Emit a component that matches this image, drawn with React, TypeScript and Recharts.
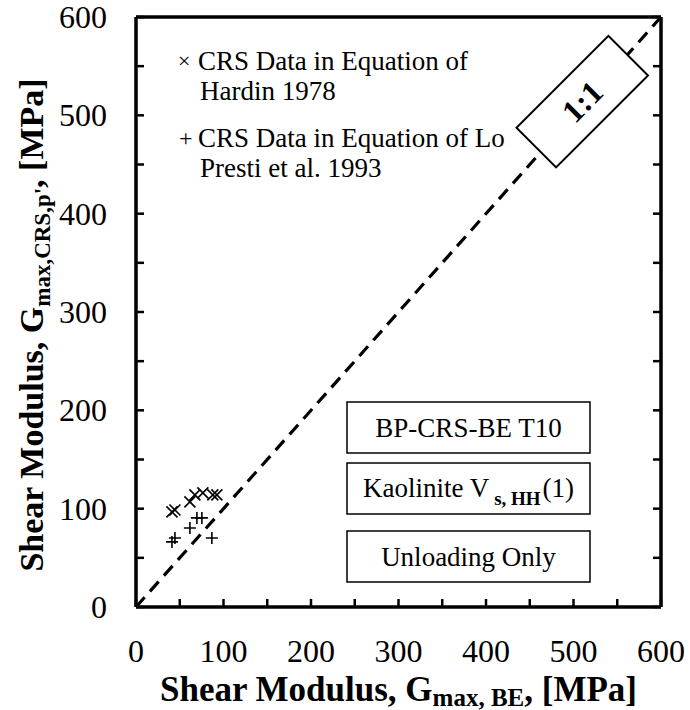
import React from "react";
import { ComposedChart, Scatter, XAxis, YAxis, ReferenceLine, ReferenceDot } from "recharts";

// axis ticks (labels only on the hundreds)
const xTicks = [0, 50, 100, 150, 200, 250, 300, 350, 400, 450, 500, 550, 600];
const yTicks = [0, 50, 100, 150, 200, 250, 300, 350, 400, 450, 500, 550, 600];

// CRS data in equation of Hardin 1978
const hardinX = [41.1, 44.5, 61.6, 67.3, 76.4, 87.8, 92.4];
const hardinY = [96.7, 98.7, 106.9, 114, 116, 114, 114];

// CRS data in equation of Lo Presti et al. 1993
const loPrestiX = [41.1, 44.5, 61.6, 69.6, 75.3, 86.7];
const loPrestiY = [66.2, 70.2, 80.4, 90.6, 90.6, 70.2];

// 1:1 reference line and its tag position
const unityLine = [0, 600];
const unityTag = { x: 510, y: 514, text: "1:1" };

const hardin = hardinX.map((x, i) => ({ x, y: hardinY[i] }));
const loPresti = loPrestiX.map((x, i) => ({ x, y: loPrestiY[i] }));

const SERIF = "Liberation Serif";
const serif = { fontFamily: SERIF };
const fmt = (v: number) => (v % 100 === 0 ? String(v) : "");

const Cross = ({ cx, cy }: any) => (
  <path
    d={`M${cx - 5.5},${cy - 5.5}L${cx + 5.5},${cy + 5.5}M${cx - 5.5},${cy + 5.5}L${cx + 5.5},${cy - 5.5}`}
    stroke="#000"
    strokeWidth={1.6}
    fill="none"
  />
);

const Plus = ({ cx, cy }: any) => (
  <path
    d={`M${cx - 6},${cy}L${cx + 6},${cy}M${cx},${cy - 6}L${cx},${cy + 6}`}
    stroke="#000"
    strokeWidth={1.6}
    fill="none"
  />
);

const UnityTag = ({ cx, cy }: any) => (
  <g transform={`translate(${cx},${cy}) rotate(-45)`}>
    <rect x={-65} y={-28} width={130} height={56} fill="#fff" stroke="#000" strokeWidth={2} />
    <text x={0} y={11} textAnchor="middle" style={serif} fontWeight="bold" fontSize={32} fill="#000">
      {unityTag.text}
    </text>
  </g>
);

const XTick = ({ x, y, payload }: any) => (
  <text x={x} y={y} dy={17} textAnchor="middle" style={serif} fontSize={32} fill="#000">
    {fmt(payload.value)}
  </text>
);

const YTick = ({ x, y, payload }: any) => (
  <text x={x} y={y} dy={11} textAnchor="end" style={serif} fontSize={32} fill="#000">
    {fmt(payload.value)}
  </text>
);

const XTitle = (props: any) => {
  const vb = props.viewBox || {};
  const cx = vb.x + vb.width / 2;
  return (
    <text x={cx} y={701} textAnchor="middle" style={serif} fontWeight="bold" fontSize={35} fill="#000">
      Shear Modulus, G
      <tspan fontSize={25} dy={5}>max, BE</tspan>
      <tspan dy={-5}>, [MPa]</tspan>
    </text>
  );
};

const YTitle = (props: any) => {
  const vb = props.viewBox || {};
  const cy = vb.y + vb.height / 2 + 13;
  return (
    <text
      transform={`translate(43,${cy}) rotate(-90)`}
      textAnchor="middle"
      style={serif}
      fontWeight="bold"
      fontSize={34}
      fill="#000"
    >
      Shear Modulus, G
      <tspan fontSize={23} dy={7}>max,CRS,p'</tspan>
      <tspan dy={-7}>, [MPa]</tspan>
    </text>
  );
};

const axisLine = { stroke: "#000", strokeWidth: 3.5 };
const tickLine = { stroke: "#000", strokeWidth: 2.5 };

export default function App() {
  return (
    <div style={{ position: "absolute", left: 0, top: 0, width: 690, height: 710, background: "#fff" }}>
      <ComposedChart width={690} height={710} margin={{ top: 16, right: 28, bottom: 0, left: 0 }}>
        <XAxis
          xAxisId="b"
          type="number"
          dataKey="x"
          domain={[0, 600]}
          ticks={xTicks}
          interval={0}
          allowDataOverflow
          height={103}
          tickSize={-8}
          tickMargin={46}
          axisLine={axisLine}
          tickLine={tickLine}
          tick={XTick}
          label={{ content: XTitle }}
        />
        <XAxis
          xAxisId="t"
          orientation="top"
          type="number"
          domain={[0, 600]}
          ticks={xTicks}
          interval={0}
          tickFormatter={() => ""}
          allowDataOverflow
          height={1}
          tickSize={-8}
          axisLine={axisLine}
          tickLine={tickLine}
        />
        <YAxis
          yAxisId="l"
          type="number"
          dataKey="y"
          domain={[0, 600]}
          ticks={yTicks}
          interval={0}
          allowDataOverflow
          width={136}
          tickSize={-8}
          tickMargin={37}
          axisLine={axisLine}
          tickLine={tickLine}
          tick={YTick}
          label={{ content: YTitle }}
        />
        <YAxis
          yAxisId="r"
          orientation="right"
          type="number"
          domain={[0, 600]}
          ticks={yTicks}
          interval={0}
          tickFormatter={() => ""}
          allowDataOverflow
          width={1}
          tickSize={-8}
          axisLine={axisLine}
          tickLine={tickLine}
        />
        <ReferenceLine
          xAxisId="b"
          yAxisId="l"
          segment={[
            { x: unityLine[0], y: unityLine[0] },
            { x: unityLine[1], y: unityLine[1] },
          ]}
          stroke="#000"
          strokeWidth={3.2}
          strokeDasharray="13 8"
        />
        <Scatter xAxisId="b" yAxisId="l" data={hardin} shape={Cross} isAnimationActive={false} />
        <Scatter xAxisId="b" yAxisId="l" data={loPresti} shape={Plus} isAnimationActive={false} />
        <ReferenceDot xAxisId="b" yAxisId="l" x={unityTag.x} y={unityTag.y} shape={UnityTag} />
      </ComposedChart>
      <svg width={690} height={710} style={{ position: "absolute", left: 0, top: 0, pointerEvents: "none" }}>
        <g fill="#000" style={serif}>
          <text x={178} y={68} fontSize={22} style={serif}>×</text>
          <text x={198} y={70} fontSize={27} style={serif}>CRS Data in Equation of</text>
          <text x={200} y={100} fontSize={27} style={serif}>Hardin 1978</text>
          <text x={179} y={146} fontSize={24} style={serif}>+</text>
          <text x={198} y={147} fontSize={27} style={serif}>CRS Data in Equation of Lo</text>
          <text x={200} y={177} fontSize={27} style={serif}>Presti et al. 1993</text>

          <rect x={347} y={402} width={243} height={51} fill="#fff" stroke="#000" strokeWidth={1.5} />
          <text x={468.5} y={437} fontSize={27} textAnchor="middle" style={serif}>BP-CRS-BE T10</text>
          <rect x={347} y={463} width={243} height={51} fill="#fff" stroke="#000" strokeWidth={1.5} />
          <text x={468.5} y={497} fontSize={27} textAnchor="middle" style={serif}>
            Kaolinite V
            <tspan fontSize={19} fontWeight="bold" dy={8} dx={5}>s, HH</tspan>
            <tspan dy={-8} dx={2}>(1)</tspan>
          </text>
          <rect x={347} y={531} width={243} height={51} fill="#fff" stroke="#000" strokeWidth={1.5} />
          <text x={468.5} y={566} fontSize={27} textAnchor="middle" style={serif}>Unloading Only</text>
        </g>
      </svg>
    </div>
  );
}
